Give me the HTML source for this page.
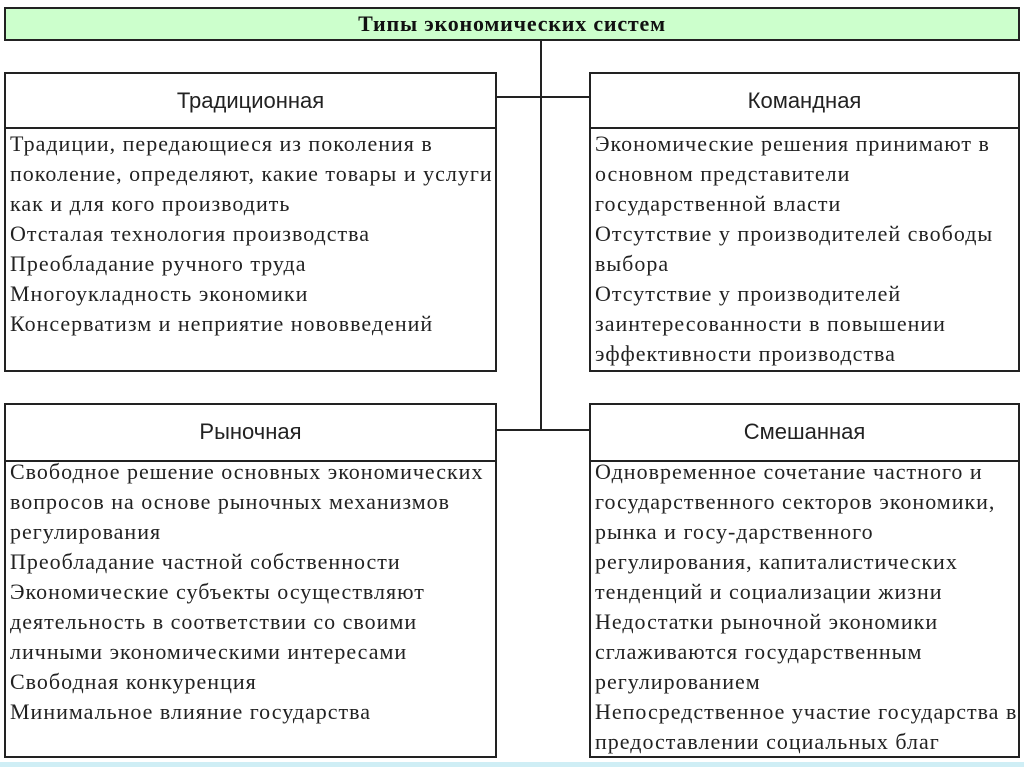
<!DOCTYPE html>
<html><head><meta charset="utf-8"><style>
body{margin:0;width:1024px;height:767px;background:#fff;position:relative;overflow:hidden}
.b{position:absolute;border:2px solid #222;box-sizing:border-box;background:#fff}
.ln{position:absolute;background:#222}
.h{position:absolute;font-family:"Liberation Sans",sans-serif;font-size:22px;color:#222;text-align:center}
.t{position:absolute;font-family:"Liberation Serif",serif;font-size:22px;letter-spacing:1px;line-height:30px;color:#222;white-space:nowrap}
</style></head><body>
<div class="b" style="left:4px;top:7px;width:1016px;height:34px;background:#ccffcc"></div>
<div style="position:absolute;left:4px;top:7px;width:1016px;height:34px;line-height:34px;text-align:center;font-family:'Liberation Serif',serif;font-weight:bold;font-size:22px;letter-spacing:0.8px;color:#111">Типы экономических систем</div>
<div class="ln" style="left:540px;top:40px;width:2px;height:391px"></div>
<div class="ln" style="left:495px;top:96px;width:95px;height:2px"></div>
<div class="ln" style="left:495px;top:429px;width:95px;height:2px"></div>

<div class="b" style="left:4px;top:72px;width:493px;height:300px"></div>
<div class="ln" style="left:4px;top:127px;width:493px;height:2px"></div>
<div class="h" style="left:4px;top:88px;width:493px">Традиционная</div>
<div class="t" style="left:10px;top:129px">Традиции, передающиеся из поколения в<br>поколение, определяют, какие товары и услуги<br>как и для кого производить<br>Отсталая технология производства<br>Преобладание ручного труда<br>Многоукладность экономики<br>Консерватизм и неприятие нововведений</div>

<div class="b" style="left:589px;top:72px;width:431px;height:300px"></div>
<div class="ln" style="left:589px;top:127px;width:431px;height:2px"></div>
<div class="h" style="left:589px;top:88px;width:431px">Командная</div>
<div class="t" style="left:595px;top:129px">Экономические решения принимают в<br>основном представители<br>государственной власти<br>Отсутствие у производителей свободы<br>выбора<br>Отсутствие у производителей<br>заинтересованности в повышении<br>эффективности производства</div>

<div class="b" style="left:4px;top:403px;width:493px;height:355px"></div>
<div class="ln" style="left:4px;top:460px;width:493px;height:2px"></div>
<div class="h" style="left:4px;top:419px;width:493px">Рыночная</div>
<div class="t" style="left:10px;top:457px">Свободное решение основных экономических<br>вопросов на основе рыночных механизмов<br>регулирования<br>Преобладание частной собственности<br>Экономические субъекты осуществляют<br>деятельность в соответствии со своими<br>личными экономическими интересами<br>Свободная конкуренция<br>Минимальное влияние государства</div>

<div class="b" style="left:589px;top:403px;width:431px;height:355px"></div>
<div class="ln" style="left:589px;top:460px;width:431px;height:2px"></div>
<div class="h" style="left:589px;top:419px;width:431px">Смешанная</div>
<div class="t" style="left:595px;top:457px">Одновременное сочетание частного и<br>государственного секторов экономики,<br>рынка и госу-дарственного<br>регулирования, капиталистических<br>тенденций и социализации жизни<br>Недостатки рыночной экономики<br>сглаживаются государственным<br>регулированием<br>Непосредственное участие государства в<br>предоставлении социальных благ</div>
<div style="position:absolute;left:0;top:762px;width:1024px;height:5px;background:#cfeef5"></div>
</body></html>
